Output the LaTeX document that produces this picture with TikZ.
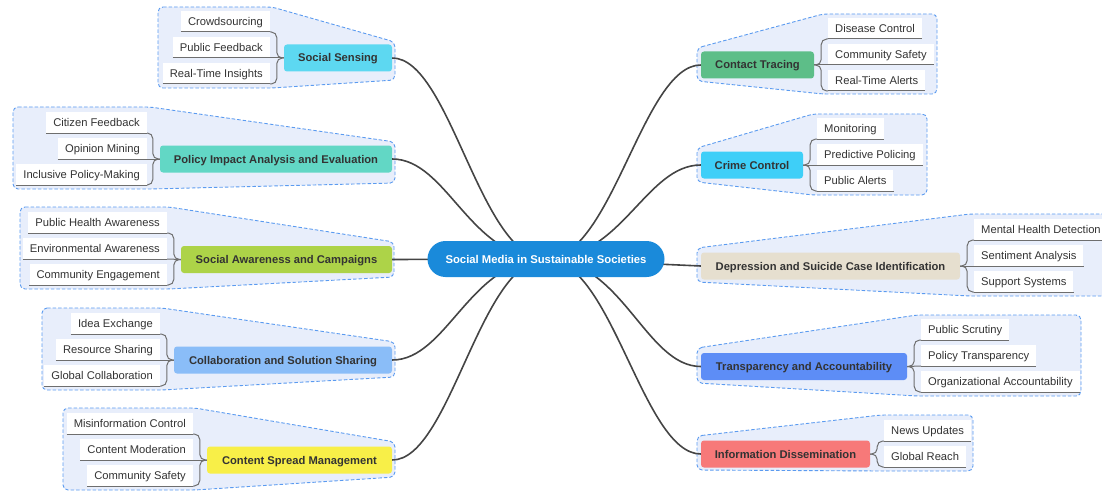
\documentclass[tikz,border=0pt]{standalone}
\usepackage{fontspec}
\setmainfont{Liberation Sans}
\definecolor{rootblue}{HTML}{1A8ADA}
\definecolor{grpfill}{HTML}{E8EEFB}
\definecolor{grpline}{HTML}{5B9BF0}
\definecolor{txt}{HTML}{333333}
\definecolor{ulcol}{HTML}{6E6E6E}
\definecolor{conncol}{HTML}{444444}
\definecolor{cSS}{HTML}{5DD8F1}
\definecolor{cPI}{HTML}{62D7C5}
\definecolor{cSA}{HTML}{ADD348}
\definecolor{cCS}{HTML}{8ABDF8}
\definecolor{cCM}{HTML}{F8EF48}
\definecolor{cCT}{HTML}{5DBE88}
\definecolor{cCC}{HTML}{3ECFF8}
\definecolor{cDS}{HTML}{E6DFCF}
\definecolor{cTA}{HTML}{5D8DF6}
\definecolor{cID}{HTML}{F77979}
\tikzset{
  grp/.style={draw=grpline, fill=grpfill, dash pattern=on 3.5pt off 2pt, line width=0.9pt, rounded corners=5pt},
  rootnode/.style={fill=rootblue, text=white, font=\bfseries\fontsize{11.3}{13}\selectfont, rounded corners=18pt, minimum width=237pt, minimum height=36pt, inner sep=0pt, text height=8pt, text depth=0pt},
  branch/.style={rounded corners=3pt, text=txt, font=\bfseries\fontsize{11.2}{13}\selectfont, minimum height=27pt, inner sep=0pt, text height=8pt, text depth=0pt},
  leaf/.style={fill=white, text=txt, font=\fontsize{11.2}{13}\selectfont, inner xsep=7pt, inner ysep=0pt, minimum height=21pt, text height=8pt, text depth=0pt},
  leafL/.style={leaf, anchor=south east},
  leafR/.style={leaf, anchor=south west},
  uline/.style={draw=ulcol, line width=1pt},
  bracepath/.style={draw=ulcol, line width=1pt, rounded corners=5.5pt},
  conn/.style={draw=conncol, line width=1.6pt},
}
\begin{document}
\begin{tikzpicture}[x=1pt,y=-1pt]
\useasboundingbox (0,0) rectangle (1102,492);
\clip (0,0) rectangle (1102,492);
% groups
\path[grp] (158,7) -- (272,7) -- (395,42) -- (395,80) -- (272,88) -- (158,88) -- cycle;
\path[grp] (13,107) -- (150,107) -- (395,142) -- (395,183) -- (150,189) -- (13,189) -- cycle;
\path[grp] (20,207) -- (169,207) -- (394,242) -- (394,277) -- (169,289) -- (20,289) -- cycle;
\path[grp] (42,308) -- (162,308) -- (395,342) -- (395,377) -- (162,390) -- (42,390) -- cycle;
\path[grp] (63,408) -- (195,408) -- (395,442) -- (395,477) -- (195,490) -- (63,490) -- cycle;
\path[grp] (697,48) -- (823,14) -- (937,14) -- (937,94) -- (823,94) -- (697,81) -- cycle;
\path[grp] (697,148) -- (813,114) -- (927,114) -- (927,195) -- (813,195) -- (697,182) -- cycle;
\path[grp] (697,248) -- (970,214) -- (1115,214) -- (1115,296) -- (970,296) -- (697,282) -- cycle;
\path[grp] (697,348) -- (917,315) -- (1081,315) -- (1081,396) -- (917,396) -- (697,383) -- cycle;
\path[grp] (697,436) -- (881,415) -- (973,415) -- (973,471) -- (881,471) -- (697,470) -- cycle;

% branch nodes
\node[branch, fill=cSS, minimum width=108pt] (ss) at (338,58) {Social Sensing};
\node[branch, fill=cPI, minimum width=232pt] (pi) at (276,159) {Policy Impact Analysis and Evaluation};
\node[branch, fill=cSA, minimum width=211pt] (sa) at (286.5,259.5) {Social Awareness and Campaigns};
\node[branch, fill=cCS, minimum width=218pt] (cs) at (283,360) {Collaboration and Solution Sharing};
\node[branch, fill=cCM, minimum width=185pt] (cm) at (299.5,460) {Content Spread Management};
\node[branch, fill=cCT, minimum width=113pt] (ct) at (757.5,65) {Contact Tracing};
\node[branch, fill=cCC, minimum width=102pt] (cc) at (752,165) {Crime Control};
\node[branch, fill=cDS, minimum width=259pt] (ds) at (830.5,266) {Depression and Suicide Case Identification};
\node[branch, fill=cTA, minimum width=206pt] (ta) at (804,366.5) {Transparency and Accountability};
\node[branch, fill=cID, minimum width=169pt] (id) at (785.5,454) {Information Dissemination};

% root position
\coordinate (rc) at (546,259);

% connectors
\draw[conn] (ss.east) .. controls +(58,0) and +(-66,0) .. (rc);
\draw[conn] (pi.east) .. controls +(55,0) and +(-76,0) .. (rc);
\draw[conn] (sa.east) -- (rc);
\draw[conn] (cs.east) .. controls +(55,0) and +(-76,0) .. (rc);
\draw[conn] (cm.east) .. controls +(58,0) and +(-66,0) .. (rc);
\draw[conn] (ct.west) .. controls +(-58,0) and +(66,0) .. (rc);
\draw[conn] (cc.west) .. controls +(-55,0) and +(76,0) .. (rc);
\draw[conn] (ds.west) -- (rc);
\draw[conn] (ta.west) .. controls +(-55,0) and +(76,0) .. (rc);
\draw[conn] (id.west) .. controls +(-58,0) and +(66,0) .. (rc);

\node[rootnode] (root) at (rc) {Social Media in Sustainable Societies};

% leaves: Social Sensing
\node[leafL] (ss1) at (270,32) {Crowdsourcing};
\node[leafL] (ss2) at (270,58) {Public Feedback};
\node[leafL] (ss3) at (270,84) {Real-Time Insights};
% Policy
\node[leafL] (pi1) at (147,133) {Citizen Feedback};
\node[leafL] (pi2) at (147,159) {Opinion Mining};
\node[leafL] (pi3) at (147,185) {Inclusive Policy-Making};
% Social awareness
\node[leafL] (sa1) at (167,233) {Public Health Awareness};
\node[leafL] (sa2) at (167,259) {Environmental Awareness};
\node[leafL] (sa3) at (167,285) {Community Engagement};
% Collaboration
\node[leafL] (cs1) at (160,334) {Idea Exchange};
\node[leafL] (cs2) at (160,360) {Resource Sharing};
\node[leafL] (cs3) at (160,386) {Global Collaboration};
% Content
\node[leafL] (cm1) at (193,434) {Misinformation Control};
\node[leafL] (cm2) at (193,460) {Content Moderation};
\node[leafL] (cm3) at (193,486) {Community Safety};
% Contact tracing
\node[leafR] (ct1) at (828,39) {Disease Control};
\node[leafR] (ct2) at (828,65) {Community Safety};
\node[leafR] (ct3) at (828,91) {Real-Time Alerts};
% Crime
\node[leafR] (cc1) at (817,139) {Monitoring};
\node[leafR] (cc2) at (817,165) {Predictive Policing};
\node[leafR] (cc3) at (817,191) {Public Alerts};
% Depression
\node[leafR] (ds1) at (974,240) {Mental Health Detection};
\node[leafR] (ds2) at (974,266) {Sentiment Analysis};
\node[leafR] (ds3) at (974,292) {Support Systems};
% Transparency
\node[leafR] (ta1) at (921,340) {Public Scrutiny};
\node[leafR] (ta2) at (921,366) {Policy Transparency};
\node[leafR] (ta3) at (921,392) {Organizational Accountability};
% Information
\node[leafR] (id1) at (884,441) {News Updates};
\node[leafR] (id2) at (884,467) {Global Reach};

% underlines
\foreach \n in {ss1,ss2,ss3,pi1,pi2,pi3,sa1,sa2,sa3,cs1,cs2,cs3,cm1,cm2,cm3,ct1,ct2,ct3,cc1,cc2,cc3,ds1,ds2,ds3,ta1,ta2,ta3,id1,id2}
  \draw[uline] (\n.south west) -- (\n.south east);

% braces left
\foreach \b in {ss,pi,sa,cs,cm}{
  \draw[bracepath] (\b.west) -- ++(-7,0) |- (\b1.south east);
  \draw[bracepath] (\b.west) -- (\b2.south east);
  \draw[bracepath] (\b.west) -- ++(-7,0) |- (\b3.south east);
}
% braces right
\foreach \b in {ct,cc,ds,ta}{
  \draw[bracepath] (\b.east) -- ++(7,0) |- (\b1.south west);
  \draw[bracepath] (\b.east) -- (\b2.south west);
  \draw[bracepath] (\b.east) -- ++(7,0) |- (\b3.south west);
}
\draw[bracepath] (id.east) -- ++(7,0) |- (id1.south west);
\draw[bracepath] (id.east) -- ++(7,0) |- (id2.south west);
\end{tikzpicture}
\end{document}
